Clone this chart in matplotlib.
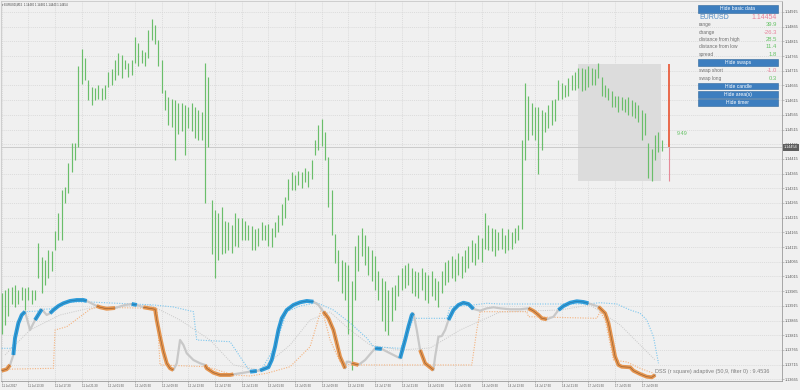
import matplotlib
matplotlib.use("Agg")
import matplotlib.pyplot as plt
from matplotlib.patches import Rectangle
import numpy as np

plt.rcParams['font.family'] = ['Liberation Sans', 'DejaVu Sans']

# EURUSD M15 bars, one kept every 2 bars, prices in pips above 1.13
base = 1.13
bar_step = 2
hi_pips = [96, 97, 97.5, 98, 98.5, 97, 98, 97.5, 98, 97,
           97, 113, 108, 107, 110.5, 110, 117, 123, 131, 132,
           140, 147, 147, 173, 179, 176, 168.5, 166, 165.5, 166.5,
           165.5, 166.5, 171, 172, 175, 177.5, 177, 175, 174, 175,
           183, 181, 178.5, 178, 185.5, 189, 187, 182, 175, 165,
           162.5, 162, 161.5, 160.5, 160.5, 160, 159, 160.5, 159, 158,
           157.5, 174, 169.5, 127.5, 124, 123, 125, 120.5, 120, 119,
           123, 121.5, 121.5, 120.5, 119, 118.5, 117.5, 118, 120, 119,
           119.5, 118, 120, 122.5, 126, 128.5, 134.5, 137, 136, 137.5,
           137, 138.5, 137.5, 141, 148, 153, 155, 150.5, 142, 131,
           116, 110.5, 107, 106.5, 105.5, 100, 112, 115.5, 118, 115.5,
           112, 110.5, 108.5, 103.5, 101, 100, 97, 98, 98.5, 102,
           104.5, 105.5, 106, 104.5, 103.5, 103, 104.5, 103, 102, 103.5,
           101, 100, 103.5, 106.5, 107, 108.5, 107.5, 109.5, 108.5, 110.5,
           112, 114, 113, 115.5, 114.5, 123, 119, 118, 117.5, 116.5,
           118, 115.5, 117.5, 116.5, 118, 119, 148, 167.5, 163, 160.5,
           159, 159, 158, 157.5, 160, 161.5, 162, 168.5, 167.5, 166.5,
           169, 170, 171, 172.5, 172.5, 172, 173, 172.5, 172, 174,
           169.5, 166.5, 165.5, 164.5, 163, 163, 162.5, 162, 162.5, 161.5,
           161, 160, 158, 157, 147, 145, 149.5, 150.5, 148.1]
lo_pips = [82, 85, 88, 92, 91, 92, 93.5, 90, 93.5, 92,
           93.5, 101, 96, 98.5, 101, 103.5, 110.5, 114, 114, 126.5,
           130, 137, 141, 145.5, 167, 168.5, 161.5, 160, 161.5, 162,
           161.5, 162, 166, 166.5, 168.5, 170, 169, 172, 169.5, 170,
           174, 173, 174, 173, 176, 182, 180.5, 173, 164, 158,
           153, 152.5, 141, 150, 151, 143, 152, 151, 148.5, 148,
           148, 126.5, 145.5, 109, 101, 107, 109, 109.5, 110.5, 109.5,
           112, 111.5, 114, 114, 114, 110.5, 110.5, 112, 114, 114,
           112, 111.5, 115, 116.5, 119, 121.5, 127.5, 131, 131, 132.5,
           131.5, 133.5, 132, 134.5, 143, 144.5, 146, 141, 125, 115.5,
           106, 100, 96, 93.5, 82, 69.5, 93.5, 103.5, 108.5, 105.5,
           102, 100, 97, 93.5, 86.5, 83, 81.5, 86.5, 90, 95,
           97, 97.5, 98.5, 96, 95, 94, 97, 93.5, 92.5, 95,
           93.5, 91, 96, 98.5, 99.5, 101, 100, 102, 101, 103,
           104.5, 106.5, 105.5, 107.5, 106.5, 111, 110.5, 110, 108.5, 110.5,
           111, 109.5, 110.5, 111, 113, 114, 117.5, 141, 148, 149.5,
           148, 136.5, 144.5, 150.5, 152, 153, 154.5, 161.5, 162, 162.5,
           163, 165, 165, 165.5, 164.5, 165, 166, 166.5, 166.5, 169,
           163, 162.5, 161.5, 159, 159, 157.5, 158, 157.5, 156.5, 156,
           155.5, 154, 148, 149.5, 135, 134, 141, 144, 144.3]

last_ohlc = ["1.14480", "1.14481", "1.14443", "1.14454"]
last_price = 1.14454
area_high = 1.14739
area_low = 1.14340
area_start, area_end = 346, 395.5
timer_text = "9.49"

time_labels = ["11 Jul 2017", "11 Jul 13:30", "11 Jul 17:30", "11 Jul 21:30",
               "12 Jul 01:30", "12 Jul 05:30", "12 Jul 09:30", "12 Jul 13:30",
               "12 Jul 17:30", "12 Jul 21:30", "13 Jul 01:30", "13 Jul 05:30",
               "13 Jul 09:30", "13 Jul 13:30", "13 Jul 17:30", "13 Jul 21:30",
               "14 Jul 01:30", "14 Jul 05:30", "14 Jul 09:30", "14 Jul 13:30",
               "14 Jul 17:30", "14 Jul 21:30", "17 Jul 01:30", "17 Jul 05:30",
               "17 Jul 09:30"]
price_ticks = np.round(1.13665 + 0.0005 * np.arange(26), 5)

# DSS main line (bar index, value)
dss_idx = [0, 3, 5, 7, 8, 10, 12, 14, 17, 20, 24, 27, 29, 31, 34, 37, 41, 45, 49, 51,
           57, 59, 63, 68, 74, 78, 81, 85, 92, 93, 95, 97, 99, 101, 103, 105, 107, 109, 111, 115,
           119, 122, 123, 127, 131, 137, 139, 149, 153, 155, 160, 162, 164, 166, 168, 171, 175, 179, 183, 187,
           190, 193, 196, 199, 201, 203, 206, 207, 209, 210, 214, 218, 224, 228, 233, 239, 242, 244, 246, 247,
           249, 251, 254, 257, 259, 260, 262, 264, 266, 268, 271, 274, 277, 280, 283, 287, 291, 295, 299, 305,
           311, 316, 319, 322, 324, 327, 331, 334, 337, 341, 345, 349, 352, 355, 358, 362, 364, 366, 368, 370,
           372, 377, 379, 383, 387, 390, 392]
dss_val = [9.1, 10.9, 16.3, 28.8, 50, 68.8, 78.8, 82.9, 60, 72.5, 85.9, 78.8, 80.9, 85, 90, 93.4, 96.3, 97.5, 97.5, 96.3,
           90, 88.4, 86.6, 87.5, 91.3, 92.5, 91.3, 88.4, 85.9, 72.5, 51.6, 32.9, 18.4, 12.1, 10, 18.4, 47.5, 41.3, 30.9, 22.5,
           18.4, 16.3, 12.1, 6.6, 3.8, 3.8, 4.6, 7.9, 8.8, 9.4, 13.4, 22.5, 39.1, 60, 74.6, 85, 91.3, 94.6, 96.3, 95.4,
           91.3, 82.9, 74.6, 60, 43.4, 26.6, 12.1, 20.4, 20, 18.4, 16.3, 22.5, 37.1, 36.3, 30.9, 24.6, 47.5, 64.1, 78.8, 80.9,
           60, 35, 18.4, 13.4, 10, 26.6, 51.6, 52.5, 60, 72.5, 85, 91.3, 94.1, 92.5, 86.3, 84.1, 87.1, 88.4, 87.1, 85.9,
           85.9, 87.1, 83.8, 78.8, 74.6, 73.4, 76.6, 85, 90, 94.1, 95.9, 95, 93.4, 91.3, 89.1, 80.9, 68.4, 47.5, 26.6, 16.3,
           14.1, 13.4, 9.1, 5, 1.6, 0.9, 3.8]
# coloured parts of the main line: u = rising (blue), d = falling (orange)
seg_start = [0, 7, 20, 29, 57, 78, 85, 122, 149, 155, 193, 210, 224, 239, 251, 268, 316, 334, 358]
seg_end = [5, 14, 24, 51, 68, 81, 103, 139, 153, 187, 206, 214, 228, 247, 259, 283, 327, 352, 392]
seg_dir = ['d', 'u', 'u', 'u', 'd', 'u', 'd', 'd', 'u', 'u', 'd', 'd', 'u', 'u', 'd', 'u', 'd', 'u', 'd']

# upper / lower levels and signal (dotted)
up_idx = [0, 6, 8, 12, 14, 23, 24, 29, 35, 41, 53, 91, 103, 115, 117, 137, 149, 156, 164, 171,
          179, 189, 199, 209, 219, 223, 239, 242, 247, 267, 269, 283, 291, 299, 351, 359, 369, 377, 383, 387,
          391, 394]
up_val = [37.1, 37.1, 50, 78.8, 82.9, 83.8, 85.9, 86.3, 91.3, 95, 95, 91.3, 88.8, 82.9, 47.5, 45.4, 7.9, 11.3, 39.1, 82.9,
          90, 94.1, 85, 68.8, 50, 39.1, 37.1, 47.5, 74.6, 74.6, 89.1, 91.3, 93.4, 92.5, 92.5, 94.1, 92.5, 85, 80.9, 72.5,
          51.6, 18.4]
dn_idx = [0, 31, 32, 39, 47, 53, 57, 93, 95, 123, 139, 149, 159, 173, 185, 191, 192, 197, 203, 209,
          239, 282, 285, 287, 315, 316, 357, 359, 362, 367, 375, 383, 391]
dn_val = [10.9, 12.1, 60, 64.1, 76.6, 85.9, 88.4, 87.1, 16.3, 14.1, 3.8, 2.5, 5.9, 14.1, 39.1, 80.9, 87.1, 47.5, 20, 16.3,
          16.3, 16.3, 60, 82.9, 82.9, 76.6, 74.6, 82.9, 72.5, 22.5, 20, 12.1, 5.9]
sig_idx = [2, 17, 35, 53, 89, 107, 125, 139, 155, 173, 185, 197, 209, 221, 239, 257, 275, 299, 335, 353, 371, 383, 392]
sig_val = [28.8, 60, 78.8, 87.5, 91.3, 72.5, 47.5, 16.3, 10, 41.3, 72.5, 82.5, 60, 41.3, 35, 37.5, 60, 82.5, 85, 91.3,
           66.3, 41.3, 22.5]
dss_caption = "DSS (r square) adaptive (50,9, filter 0) : 9.4536"

# info panel
panel_labels = ["range", "change", "distance from high", "distance from low", "spread"]
panel_values = ["39.9", "-26.3", "28.5", "11.4", "1.8"]
swap_labels = ["swap short", "swap long"]
swap_values = ["-1.0", "0.3"]
buttons = ["Hide basic data", "Hide swaps", "Hide candle", "Hide area(s)", "Hide timer"]

W, H = 800, 390
BG = '#F0F0F0'
GREEN = '#6ABE6A'
PINK = '#E8809A'
VGREEN = '#66C266'

fig = plt.figure(figsize=(W / 100, H / 100), dpi=100, facecolor=BG)
rect = [1 / W, 9 / H, 781 / W, 380 / H]
ax = fig.add_axes(rect)
ax.set_facecolor(BG)
xlim = (-0.42, 468.1)
ax.set_xlim(*xlim)
ax.set_ylim(1.136592, 1.149524)

# grid + axes
ax.set_xticks(np.arange(len(time_labels)) * 16)
ax.set_xticklabels(time_labels, ha='left')
ax.set_yticks(price_ticks)
ax.set_yticklabels(["%.5f" % p for p in price_ticks])
ax.yaxis.tick_right()
ax.grid(True, color='#D4D4D4', lw=0.5, ls=(0, (1.5, 1.5)), zorder=0)
ax.set_axisbelow(True)
ax.tick_params(axis='x', length=1.5, width=0.4, colors='#999999', labelcolor='#555555',
               labelsize=2.1, pad=0.8)
ax.tick_params(axis='y', length=1.5, width=0.4, colors='#999999', labelcolor='#555555',
               labelsize=2.7, pad=0.5)
for side, sp in ax.spines.items():
    sp.set_color('#9A9A9A')
    sp.set_linewidth(0.6)
    if side in ('left', 'top'):
        sp.set_color('#C8C8C8')

# area box, price line, bars
ax.add_patch(Rectangle((area_start, area_low), area_end - area_start, area_high - area_low,
                       fc='#DCDCDC', ec='none', zorder=1))
ax.axhline(last_price, color='#C4C4C4', lw=0.6, zorder=2)

idx = np.arange(len(hi_pips)) * bar_step
hi = base + np.array(hi_pips) / 10000
lo = base + np.array(lo_pips) / 10000
ax.vlines(idx, lo, hi, color=GREEN, lw=0.85, zorder=3)

red_x = area_end + 5
ax.vlines(red_x, last_price, area_high, color='#E8451E', lw=1.1, zorder=4)
ax.vlines(red_x, area_low, last_price, color='#E58A98', lw=0.8, zorder=4)
ax.text(red_x + 4.5, 1.14500, timer_text, color=VGREEN, fontsize=4, va='center', ha='left')

ax.annotate("%.5f" % last_price, xy=(1, last_price), xycoords=('axes fraction', 'data'),
            xytext=(1.2, 0), textcoords='offset points', ha='left', va='center',
            fontsize=2.7, color='white', annotation_clip=False, zorder=10,
            bbox=dict(boxstyle='square,pad=0.3', fc='#5E5E5E', ec='none'))

# indicator overlay
ax2 = fig.add_axes(rect)
ax2.set_xlim(*xlim)
ax2.set_ylim(-3.75, 471.25)
ax2.axis('off')
ax2.plot(sig_idx, sig_val, color='#C8C8C8', lw=0.7, ls=(0, (1, 1.3)))
ax2.plot(up_idx, up_val, color='#7CC6EE', lw=0.8, ls=(0, (1, 1.3)))
ax2.plot(dn_idx, dn_val, color='#F4B27E', lw=0.8, ls=(0, (1, 1.3)))
ax2.plot(dss_idx, dss_val, color='#C8C8C8', lw=1.6, solid_capstyle='round')
d_idx = np.array(dss_idx)
d_val = np.array(dss_val)
colors = {'u': ('#2E9CDA', '#2473A3'), 'd': ('#E5944E', '#8A5A32')}
for s, e, k in zip(seg_start, seg_end, seg_dir):
    m = (d_idx >= s) & (d_idx <= e)
    c, dark = colors[k]
    ax2.plot(d_idx[m], d_val[m], color=c, lw=2.8, solid_capstyle='butt')
    ax2.plot(d_idx[m], d_val[m], color=dark, lw=0.4)


def fx(x):
    return x / W


def fy(y):
    return 1 - y / H


fig.text(fx(655), fy(372), dss_caption, fontsize=4, color='#808080', va='center', ha='left')
fig.text(fx(2.5), fy(5), "\u25BE EURUSD,M15  " + " ".join(last_ohlc), fontsize=2.0,
         color='#404040', va='center', ha='left')

# panel buttons and rows
btn_y = [(5.3, 12.7), (59, 66), (82.7, 89.3), (91, 97.7), (99, 106)]
for label, (y0, y1) in zip(buttons, btn_y):
    fig.add_artist(Rectangle((fx(698), fy(y1)), (778 - 698) / W, (y1 - y0) / H,
                             transform=fig.transFigure, fc='#3D7EBF', ec='#2E6699', lw=0.4))
    fig.text(fx(738), fy((y0 + y1) / 2), label, ha='center', va='center', color='white', fontsize=3.6)

fig.text(fx(699), fy(17.5), "EURUSD", color='#4C88C4', fontsize=5, va='center', ha='left')
fig.text(fx(777), fy(17.5), "%.5f" % last_price, color=PINK, fontsize=5, va='center', ha='right')
row_y = [24.7, 32.3, 39.7, 47, 54.3]
for lab, val, y in zip(panel_labels, panel_values, row_y):
    fig.text(fx(699), fy(y), lab, color='#707070', fontsize=3.5, va='center', ha='left')
    fig.text(fx(777), fy(y), val, color=PINK if val.startswith('-') else VGREEN,
             fontsize=4.2, va='center', ha='right')
for lab, val, y in zip(swap_labels, swap_values, [70.7, 78.3]):
    fig.text(fx(699), fy(y), lab, color='#707070', fontsize=3.5, va='center', ha='left')
    fig.text(fx(777), fy(y), val, color=PINK if val.startswith('-') else VGREEN,
             fontsize=4.2, va='center', ha='right')

fig.savefig("out.png", dpi=100, facecolor=BG)
